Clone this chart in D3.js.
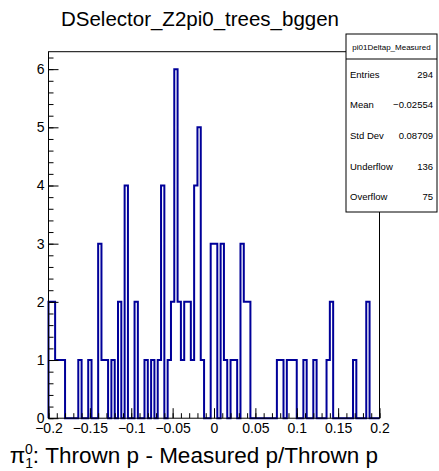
<!DOCTYPE html>
<html><head><meta charset="utf-8">
<script src="https://cdn.jsdelivr.net/npm/d3@7"></script>
<style>
body{margin:0;background:#fff}
svg{display:block}
text{font-family:"Liberation Sans",Arial,Helvetica,sans-serif;fill:#000}
</style>
</head><body><div id="chart"></div>
<script>
// Histogram definition: 100 equal bins between xMin and xMax
const chartTitle = "DSelector_Z2pi0_trees_bggen";
const histName = "pi01Deltap_Measured";
const xMin = -0.2, xMax = 0.2;
const counts = [
  2,2,1,1,1,0,0,0,0,1, 0,0,1,0,0,3,1,1,0,1,
  0,2,0,4,0,0,2,0,0,1, 0,1,0,1,4,0,1,2,6,2,
  1,2,2,1,4,5,1,0,0,3, 3,0,3,1,0,1,1,0,3,2,
  2,0,0,0,0,0,0,0,0,1, 1,0,1,1,1,0,0,1,0,0,
  1,0,0,0,1,2,0,0,0,0, 0,0,1,0,0,0,2,0,0,0
];
const xTickValues = [-0.2,-0.15,-0.1,-0.05,0,0.05,0.1,0.15,0.2];
const xTickLabels = ["\u22120.2","\u22120.15","\u22120.1","\u22120.05","0","0.05","0.1","0.15","0.2"];
const yTickValues = [0,1,2,3,4,5,6];
const yTickLabels = ["0","1","2","3","4","5","6"];
const statNames = ["Entries","Mean","Std Dev","Underflow","Overflow"];
const statValues = ["294","\u22120.02554","0.08709","136","75"];
const axisTitle = ": Thrown p - Measured p/Thrown p";

const W = 439, H = 471;
const frame = {left: 48.5, right: 379.5, top: 51.7, bottom: 418.2};
const nBins = counts.length;
const binWidth = (xMax - xMin) / nBins;
const yMax = d3.max(counts) * 1.05;

const x = d3.scaleLinear().domain([xMin, xMax]).range([frame.left, frame.right]);
const y = d3.scaleLinear().domain([0, yMax]).range([frame.bottom, frame.top]);

const svg = d3.select("#chart").append("svg")
  .attr("width", W).attr("height", H);
svg.append("rect").attr("width", W).attr("height", H).attr("fill", "#fff");

// Title
svg.append("text")
  .attr("x", 200).attr("y", 26)
  .attr("text-anchor", "middle")
  .attr("font-size", 20.5)
  .text(chartTitle);

// Histogram outline (step polyline starting and ending on the baseline)
const pts = [[xMin, 0]];
counts.forEach((c, i) => {
  const lo = xMin + i * binWidth, hi = lo + binWidth;
  pts.push([lo, c], [hi, c]);
});
pts.push([xMax, 0]);
const line = d3.line().x(d => x(d[0])).y(d => y(d[1]));
svg.append("path")
  .attr("d", line(pts))
  .attr("fill", "none")
  .attr("stroke", "#000099")
  .attr("stroke-width", 2)
  .attr("stroke-linejoin", "miter");

// X axis: major ticks every 0.05, minor every 0.01, drawn inward
const xMinor = d3.range(0, 41).map(k => xMin + k * 0.01);
svg.append("g")
  .attr("transform", `translate(0,${frame.bottom})`)
  .call(d3.axisBottom(x).tickValues(xMinor).tickSize(-5).tickFormat(""))
  .call(g => g.select(".domain").remove())
  .call(g => g.selectAll("line").attr("stroke", "#000"));
const xMaj = svg.append("g")
  .attr("transform", `translate(0,${frame.bottom})`)
  .call(d3.axisBottom(x).tickValues(xTickValues).tickSize(-10)
    .tickFormat((d, i) => xTickLabels[i]).tickPadding(5))
  .call(g => g.select(".domain").remove());
xMaj.selectAll("line").attr("stroke", "#000");
xMaj.selectAll("text").attr("font-size", 14).attr("font-family", "Liberation Sans, Arial, sans-serif").attr("fill", "#000");

// Y axis: major ticks every 1, minor every 0.2
const yMinor = d3.range(0, 32).map(k => k * 0.2).filter(v => v <= yMax);
svg.append("g")
  .attr("transform", `translate(${frame.left},0)`)
  .call(d3.axisLeft(y).tickValues(yMinor).tickSize(-5).tickFormat(""))
  .call(g => g.select(".domain").remove())
  .call(g => g.selectAll("line").attr("stroke", "#000"));
const yMaj = svg.append("g")
  .attr("transform", `translate(${frame.left},0)`)
  .call(d3.axisLeft(y).tickValues(yTickValues).tickSize(-10)
    .tickFormat((d, i) => yTickLabels[i]))
  .call(g => g.select(".domain").remove());
yMaj.selectAll("line").attr("stroke", "#000");
yMaj.selectAll("text").attr("font-size", 14).attr("font-family", "Liberation Sans, Arial, sans-serif")
  .attr("fill", "#000").attr("x", -4);

// Frame
svg.append("rect")
  .attr("x", frame.left).attr("y", frame.top)
  .attr("width", frame.right - frame.left).attr("height", frame.bottom - frame.top)
  .attr("fill", "none").attr("stroke", "#000").attr("stroke-width", 1);

// Axis title with pi^0 and subscript 1
const t = svg.append("text").attr("x", 378).attr("y", 463)
  .attr("text-anchor", "end").attr("font-size", 22.5);
t.append("tspan").text("\u03c0");
t.append("tspan").attr("font-size", 14).attr("dy", 5).text("1");
t.append("tspan").attr("font-size", 14).attr("dy", -14).attr("dx", -8).text("0");
t.append("tspan").attr("dy", 9).text(axisTitle);

// Statistics box
const box = {x: 346, y: 34, w: 91, h: 178, head: 25};
const sb = svg.append("g");
sb.append("rect").attr("x", box.x).attr("y", box.y).attr("width", box.w).attr("height", box.h)
  .attr("fill", "#fff").attr("stroke", "#000").attr("stroke-width", 1);
sb.append("line").attr("x1", box.x).attr("x2", box.x + box.w)
  .attr("y1", box.y + box.head).attr("y2", box.y + box.head).attr("stroke", "#000");
sb.append("text").attr("x", box.x + box.w / 2).attr("y", box.y + 16)
  .attr("text-anchor", "middle").attr("font-size", 8).text(histName);
const rowH = (box.h - box.head) / statNames.length;
statNames.forEach((n, i) => {
  const cy = box.y + box.head + rowH * (i + 0.5) + 3.5;
  sb.append("text").attr("x", box.x + 4).attr("y", cy).attr("font-size", 9.5).text(n);
  sb.append("text").attr("x", box.x + box.w - 4).attr("y", cy)
    .attr("text-anchor", "end").attr("font-size", 9.5).text(statValues[i]);
});
</script>
</body></html>
